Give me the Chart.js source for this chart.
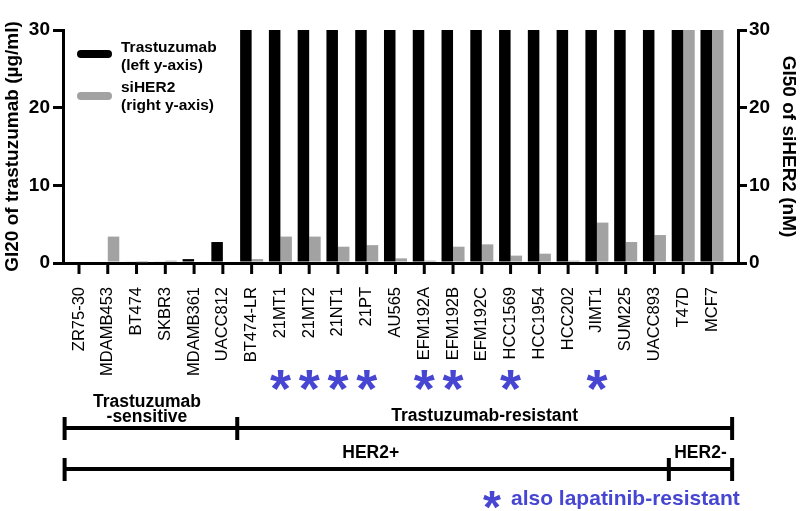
<!DOCTYPE html>
<html lang="en">
<head>
    <meta charset="UTF-8">
    <title>GI20 / GI50</title>
    <script src="https://cdn.jsdelivr.net/npm/chart.js@4.4.1/dist/chart.umd.min.js"></script>
    <style>
        body { margin: 0; background: #fff; }
        .caixa { width: 800px; height: 511px; }
    </style>
</head>
<body>
    <div class="caixa">
        <canvas id="grafico"></canvas>
    </div>

    <script>
        // cell lines
        const labels = ['ZR75-30', 'MDAMB453', 'BT474', 'SKBR3', 'MDAMB361', 'UACC812', 'BT474-LR',
            '21MT1', '21MT2', '21NT1', '21PT', 'AU565', 'EFM192A', 'EFM192B', 'EFM192C',
            'HCC1569', 'HCC1954', 'HCC202', 'JIMT1', 'SUM225', 'UACC893', 'T47D', 'MCF7']

        // GI20 of trastuzumab (ug/ml), capped at 30
        const trastuzumab = [0, 0, 0.2, 0.2, 0.5, 2.7, 30,
            30, 30, 30, 30, 30, 30, 30, 30,
            30, 30, 30, 30, 30, 30, 30, 30]

        // GI50 of siHER2 (nM)
        const siher2 = [0, 3.4, 0.1, 0.3, 0, 0, 0.5,
            3.4, 3.4, 2.1, 2.3, 0.6, 0.3, 2.1, 2.4,
            0.95, 1.2, 0.3, 5.2, 2.7, 3.6, 30, 30]

        const yTicks = [0, 10, 20, 30]
        const lapatinibResistant = ['21MT1', '21MT2', '21NT1', '21PT', 'EFM192A', 'EFM192B', 'HCC1569', 'JIMT1']

        const fonte = '"Liberation Sans", Arial, sans-serif'
        const azul = '#4646d2'
        const cinza = '#a2a2a2'

        Chart.defaults.color = '#000'
        Chart.defaults.font.family = fonte

        // legend, asterisks and the group brackets under the axis
        const anotacoes = {
            id: 'anotacoes',
            afterDraw(chart) {
                const ctx = chart.ctx
                const x = chart.scales.x
                const px = v => x.getPixelForValue(v)
                ctx.save()

                // tick marks under the categories
                ctx.strokeStyle = '#000'
                ctx.lineWidth = 3
                ctx.beginPath()
                labels.forEach(function(l, i) {
                    ctx.moveTo(px(i), x.top)
                    ctx.lineTo(px(i), x.top + 11)
                })
                ctx.stroke()

                // legend
                ctx.lineCap = 'round'
                ctx.lineWidth = 8
                ctx.strokeStyle = '#000'
                ctx.beginPath(); ctx.moveTo(81, 54); ctx.lineTo(108, 54); ctx.stroke()
                ctx.strokeStyle = cinza
                ctx.beginPath(); ctx.moveTo(81, 96); ctx.lineTo(108, 96); ctx.stroke()
                ctx.fillStyle = '#000'
                ctx.font = 'bold 15.5px ' + fonte
                ctx.textAlign = 'left'
                ctx.fillText('Trastuzumab', 121, 52)
                ctx.fillText('(left y-axis)', 121, 70)
                ctx.fillText('siHER2', 121, 92)
                ctx.fillText('(right y-axis)', 121, 110)

                // lapatinib-resistant marks
                ctx.fillStyle = azul
                ctx.textAlign = 'center'
                ctx.font = 'bold 54px ' + fonte
                lapatinibResistant.forEach(function(nome) {
                    ctx.fillText('*', px(labels.indexOf(nome)), 407)
                })

                // brackets
                ctx.lineCap = 'butt'
                ctx.strokeStyle = '#000'
                ctx.lineWidth = 4
                function colchete(y, pontos) {
                    ctx.beginPath()
                    ctx.moveTo(pontos[0], y)
                    ctx.lineTo(pontos[pontos.length - 1], y)
                    pontos.forEach(function(p) {
                        ctx.moveTo(p, y - 11)
                        ctx.lineTo(p, y + 12)
                    })
                    ctx.stroke()
                }
                const esq = px(-0.5), meio = px(5.5), her2 = px(20.5), dir = px(22.7)
                colchete(428, [esq, meio, dir])
                colchete(469, [esq, her2, dir])

                ctx.fillStyle = '#000'
                ctx.font = 'bold 17.5px ' + fonte
                ctx.fillText('Trastuzumab', (esq + meio) / 2 - 4, 407)
                ctx.fillText('-sensitive', (esq + meio) / 2 - 4, 422)
                ctx.fillText('Trastuzumab-resistant', (meio + dir) / 2, 421)
                ctx.fillText('HER2+', (esq + her2) / 2 + 4, 458)
                ctx.fillText('HER2-', (her2 + dir) / 2, 458)

                // note
                ctx.fillStyle = azul
                ctx.font = 'bold 46px ' + fonte
                ctx.fillText('*', 492, 523)
                ctx.textAlign = 'left'
                ctx.font = 'bold 21px ' + fonte
                ctx.fillText('also lapatinib-resistant', 511, 505)

                ctx.restore()
            }
        }

        function eixoY(posicao, titulo, largura, tickLen, pad, tituloPad) {
            return {
                type: 'linear',
                position: posicao,
                min: 0,
                max: 30,
                afterFit: function(s) { s.width = largura },
                afterBuildTicks: function(s) { s.ticks = yTicks.map(v => ({ value: v })) },
                title: {
                    display: true,
                    text: titulo,
                    font: { size: 19, weight: 'bold' },
                    padding: { top: tituloPad, bottom: 0 }
                },
                ticks: {
                    font: { size: 19, weight: 'bold' },
                    padding: pad
                },
                border: { display: true, width: 3, color: '#000' },
                grid: {
                    drawOnChartArea: false,
                    drawTicks: true,
                    tickLength: tickLen,
                    lineWidth: 3,
                    color: '#000'
                }
            }
        }

        new Chart(document.getElementById('grafico'), {
            type: 'bar',
            data: {
                labels: labels,
                datasets: [
                    { label: 'Trastuzumab', data: trastuzumab, backgroundColor: '#000', yAxisID: 'y' },
                    { label: 'siHER2', data: siher2, backgroundColor: cinza, yAxisID: 'y2' }
                ]
            },
            plugins: [anotacoes],
            options: {
                responsive: true,
                maintainAspectRatio: false,
                animation: false,
                layout: { padding: { top: 30, left: 0, right: 0, bottom: 0 } },
                datasets: { bar: { categoryPercentage: 0.8, barPercentage: 1.0 } },
                plugins: {
                    legend: { display: false },
                    tooltip: { enabled: false }
                },
                scales: {
                    x: {
                        type: 'category',
                        afterFit: function(s) { s.height = 248 },
                        afterBuildTicks: function(s) {
                            // bars start a bit right of the left axis and stop short of the right one
                            s._startValue = -0.556
                            s._valueRange = 23.46
                        },
                        ticks: {
                            autoSkip: false,
                            minRotation: 90,
                            maxRotation: 90,
                            padding: 16,
                            font: { size: 16.5 }
                        },
                        border: { display: true, width: 3, color: '#000' },
                        grid: { display: false }
                    },
                    y: eixoY('left', 'GI20 of trastuzumab (\u00b5g/ml)', 63, 10, 3, 1),
                    y2: eixoY('right', 'GI50 of siHER2 (nM)', 62, 9, 2, 0)
                }
            }
        })
    </script>
</body>
</html>
